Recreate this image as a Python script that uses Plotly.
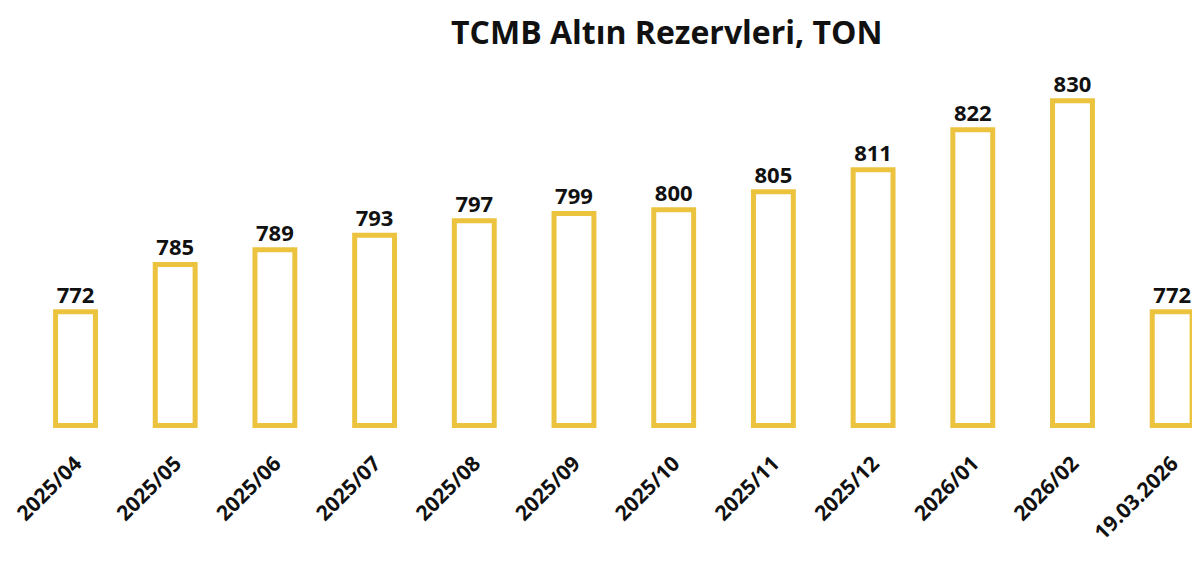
import plotly.graph_objects as go

categories = ["2025/04", "2025/05", "2025/06", "2025/07", "2025/08", "2025/09",
              "2025/10", "2025/11", "2025/12", "2026/01", "2026/02", "19.03.2026"]
values = [772, 785, 789, 793, 797, 799, 800, 805, 811, 822, 830, 772]
title_text = "TCMB Altın Rezervleri, TON"

BASE = 740.7
GOLD = "#EBC33F"

fig = go.Figure(go.Bar(
    x=categories,
    y=[v - BASE for v in values],
    base=BASE,
    text=[str(v) for v in values],
    textposition="outside",
    textfont=dict(family="Open Sans", size=22, color="#111111", weight="bold"),
    marker=dict(color="white", line=dict(color=GOLD, width=5)),
    cliponaxis=False,
    width=0.40,
    hoverinfo="skip",
))

fig.update_layout(
    width=1200, height=583,
    paper_bgcolor="white", plot_bgcolor="white",
    margin=dict(l=17, r=8, t=52, b=161, autoexpand=False),
    title=dict(text=title_text, x=0.549, xanchor="center", y=0.958, yanchor="middle",
               font=dict(family="Open Sans", size=32, color="#111111", weight="bold")),
    showlegend=False,
)
fig.update_xaxes(
    type="category", range=[-0.5065, 11.279], tickangle=-45, automargin=False,
    showgrid=False, showline=False, zeroline=False, ticks="",
    ticklabelstandoff=16,
    tickfont=dict(family="Open Sans", size=21, color="#111111", weight="bold"),
)
fig.update_yaxes(range=[739.46, 841.2], visible=False, showgrid=False, automargin=False)

fig.write_html("out.html")
